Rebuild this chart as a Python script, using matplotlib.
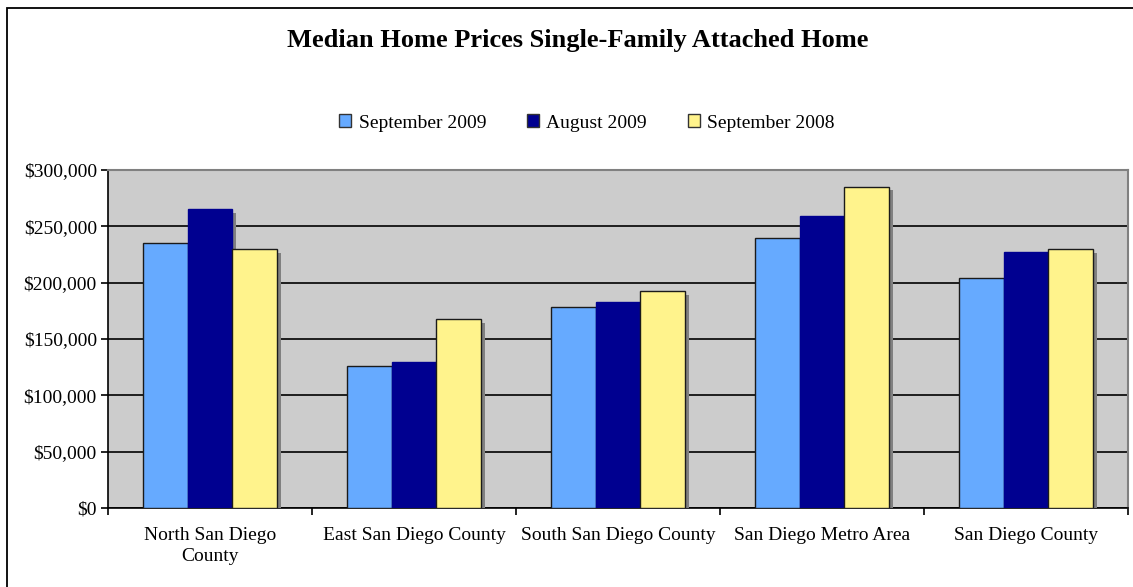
import numpy as np
import matplotlib
matplotlib.use('Agg')
import matplotlib.pyplot as plt
import matplotlib.patheffects as pe
from matplotlib.ticker import FuncFormatter
from matplotlib.patches import Rectangle

plt.rcParams['font.family'] = ['Liberation Serif', 'DejaVu Serif']

regions = ['North San Diego\nCounty', 'East San Diego County', 'South San Diego County',
           'San Diego Metro Area', 'San Diego County']
series_names = ['September 2009', 'August 2009', 'September 2008']
sep09 = [235500, 126300, 178000, 240000, 204500]
aug09 = [265000, 129500, 182500, 259000, 227000]
sep08 = [229500, 167500, 192500, 285000, 229500]
colors = ['#66aaff', '#000090', '#fff38c']

W, H = 1133, 587
fig = plt.figure(figsize=(W / 100, H / 100), dpi=100)
# outer chart border (runs off the right and bottom edges)
fig.patches.append(Rectangle((7 / W, -0.05), 1.1, 1 - 8 / H + 0.05, transform=fig.transFigure,
                             fill=False, edgecolor='black', linewidth=1.3))

ax = fig.add_axes([108 / W, 1 - 508 / H, (1128 - 108) / W, (508 - 170) / H])
ax.set_facecolor('#cccccc')

x = np.arange(len(regions))
w = 0.22
shadow = [pe.SimplePatchShadow(offset=(2.5, -2.5), shadow_rgbFace='#808080', alpha=1.0), pe.Normal()]
for i, (vals, c) in enumerate(zip([sep09, aug09, sep08], colors)):
    bars = ax.bar(x + (i - 1) * w, vals, w, color=c, edgecolor='#1a1a1a' if i != 1 else '#000090',
                  linewidth=1.0, label=series_names[i], zorder=3)
    for b in bars:
        b.set_path_effects(shadow)

ax.set_ylim(0, 300000)
ax.set_xlim(-0.5, len(regions) - 0.5)
ax.set_yticks(np.arange(0, 300001, 50000))
ax.yaxis.set_major_formatter(FuncFormatter(lambda v, p: '${:,.0f}'.format(v)))
ax.yaxis.grid(True, color='black', linewidth=1.2, zorder=1)
ax.set_axisbelow(True)

ax.set_xticks(x)
ax.set_xticklabels(regions, linespacing=1.3)
ax.set_xticks(np.arange(-0.5, len(regions), 1), minor=True)
ax.tick_params(axis='x', which='major', length=0, labelsize=14, pad=14)
ax.tick_params(axis='x', which='minor', length=5, width=1.2, direction='out')
ax.tick_params(axis='y', length=5, width=1.2, labelsize=14, pad=3)

ax.spines['top'].set_color('#808080')
ax.spines['top'].set_linewidth(1.5)
ax.spines['right'].set_color('#808080')
ax.spines['right'].set_linewidth(1.5)
ax.spines['left'].set_linewidth(1.2)
ax.spines['bottom'].set_linewidth(1.2)

fig.text(578 / W, 1 - 40 / H, 'Median Home Prices Single-Family Attached Home',
         ha='center', va='center', fontsize=19, fontweight='bold')

handles = [Rectangle((0, 0), 1, 1, facecolor=c, edgecolor='#333333', linewidth=1.0) for c in colors]
fig.legend(handles, series_names, loc='center', bbox_to_anchor=(587 / W, 1 - 123 / H), ncol=3,
           frameon=False, fontsize=14, handlelength=0.6, handleheight=0.6, handletextpad=0.4,
           columnspacing=2.1)

fig.savefig('out.png', dpi=100)
